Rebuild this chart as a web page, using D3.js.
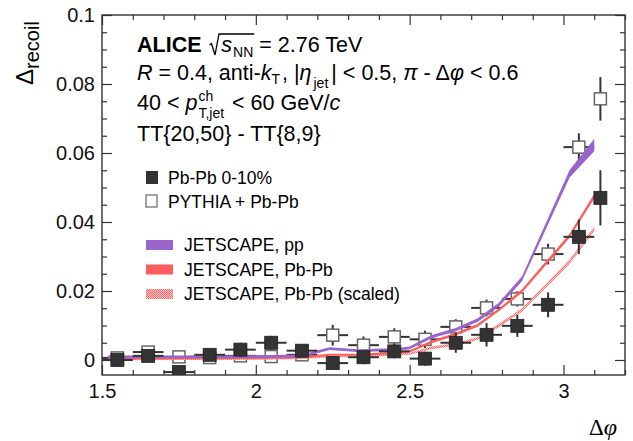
<!DOCTYPE html>
<html><head><meta charset="utf-8">
<script src="https://cdn.jsdelivr.net/npm/d3@7"></script>
<style>
html,body{margin:0;padding:0;background:#fff;}
svg{display:block;font-family:"Liberation Sans",Arial,Helvetica,sans-serif;}
svg text{white-space:pre;}
</style></head>
<body>
<svg id="chart" width="633" height="441"></svg>
<script>
// ---------------- data ----------------
const xCenters   = [1.55,1.65,1.75,1.85,1.95,2.05,2.15,2.25,2.35,2.45,2.55,2.65,2.75,2.85,2.95,3.05,3.12];
const xHalfWidth = [0.05,0.05,0.05,0.05,0.05,0.05,0.05,0.05,0.05,0.05,0.05,0.05,0.05,0.05,0.05,0.05,0.02];
const pbpbValues = [0.0000,0.0012,-0.0035,0.0015,0.0030,0.0050,0.0027,-0.0009,0.0008,0.0025,0.0004,0.0050,0.0073,0.0099,0.0160,0.0357,0.0470];
const pbpbErrors = [0.0015,0.0015,0.0020,0.0015,0.0020,0.0020,0.0018,0.0020,0.0020,0.0020,0.0020,0.0029,0.0034,0.0032,0.0036,0.0050,0.0080];
const pythiaValues = [0.0006,0.0023,0.0009,0.0007,0.0012,0.0010,0.0015,0.0072,0.0043,0.0067,0.0060,0.0096,0.0151,0.0177,0.0307,0.0617,0.0757];
const pythiaErrors = [0.0010,0.0015,0.0015,0.0012,0.0015,0.0015,0.0015,0.0030,0.0025,0.0025,0.0025,0.0022,0.0024,0.0022,0.0030,0.0040,0.0063];

const modelX        = [1.52,1.75,2.00,2.15,2.24,2.33,2.45,2.50,2.57,2.65,2.72,2.79,2.865,3.02,3.10];
const jetscapePP    = [0.0009,0.0009,0.0010,0.0012,0.0033,0.0027,0.0030,0.0035,0.0067,0.0088,0.0115,0.0160,0.0235,0.0540,0.0623];
const jetscapePPErr = [0.0004,0.0004,0.0004,0.0004,0.0004,0.0004,0.0004,0.0004,0.0005,0.0005,0.0005,0.0006,0.0007,0.0011,0.0018];
const jetscapePbPb    = [0.0004,0.0005,0.0006,0.0008,0.0015,0.0015,0.0020,0.0025,0.0052,0.0075,0.0100,0.0145,0.0200,0.0360,0.0475];
const jetscapePbPbErr = [0.0003,0.0003,0.0003,0.0003,0.0003,0.0003,0.0003,0.0003,0.0004,0.0004,0.0004,0.0004,0.0005,0.0006,0.0007];
const jetscapeScaled    = [0.0002,0.0003,0.0004,0.0006,0.0010,0.0011,0.0015,0.0018,0.0035,0.0045,0.0062,0.0100,0.0145,0.0285,0.0380];
const jetscapeScaledErr = [0.0003,0.0003,0.0003,0.0003,0.0003,0.0003,0.0003,0.0003,0.0004,0.0004,0.0004,0.0005,0.0005,0.0006,0.0007];

const xMajorTicks = [1.5,2,2.5,3];
const xTickLabels = ["1.5","2","2.5","3"];
const yMajorTicks = [0,0.02,0.04,0.06,0.08,0.1];
const yTickLabels = ["0","0.02","0.04","0.06","0.08","0.1"];
const legendLabels = ["Pb-Pb 0-10%","PYTHIA + Pb-Pb","JETSCAPE, pp","JETSCAPE, Pb-Pb","JETSCAPE, Pb-Pb (scaled)"];

// ---------------- setup ----------------
const svg = d3.select("#chart");
const L = 102, R = 625, T = 15, B = 375;
const x = d3.scaleLinear().domain([1.5,3.2]).range([L,R]);
const y = d3.scaleLinear().domain([0,0.1]).range([360,T]);
y.domain([y.invert(B),0.1]).range([B,T]);

const PURPLE = "#9a64cb", RED = "#ff5c5c", DARK = "#333";

const defs = svg.append("defs");
const pat = defs.append("pattern").attr("id","hatch").attr("patternUnits","userSpaceOnUse")
  .attr("width",2).attr("height",2);
pat.append("rect").attr("width",2).attr("height",2).attr("fill","#ffc4c4");
pat.append("rect").attr("x",0).attr("y",0).attr("width",1).attr("height",1).attr("fill","#ff6a6a");
pat.append("rect").attr("x",1).attr("y",1).attr("width",1).attr("height",1).attr("fill","#ff6a6a");
defs.append("clipPath").attr("id","plotclip").append("rect")
  .attr("x",L).attr("y",T).attr("width",R-L).attr("height",B-T);

const plot = svg.append("g").attr("clip-path","url(#plotclip)");

// ---------------- axes ----------------
const xMinor = d3.range(16,33).map(i=>i/10).filter(v=>!xMajorTicks.some(m=>Math.abs(m-v)<1e-9));
const yMinor = d3.range(0,21).map(i=>i*0.005).filter(v=>!yMajorTicks.some(m=>Math.abs(m-v)<1e-9));

function styleAxis(g){ g.select(".domain").remove(); g.selectAll("line").attr("stroke","#333").attr("stroke-width",1.2); g.selectAll("text").attr("fill","#111").attr("font-size",20).attr("font-family","Liberation Sans, Arial, sans-serif"); }

svg.append("g").attr("transform",`translate(0,${B})`)
  .call(d3.axisBottom(x).tickValues(xMajorTicks).tickFormat((d,i)=>xTickLabels[i]).tickSize(-10).tickSizeOuter(0).tickPadding(9))
  .call(styleAxis);
svg.append("g").attr("transform",`translate(0,${B})`)
  .call(d3.axisBottom(x).tickValues(xMinor).tickFormat("").tickSize(-5).tickSizeOuter(0)).call(styleAxis);
svg.append("g").attr("transform",`translate(0,${T})`)
  .call(d3.axisTop(x).tickValues(xMajorTicks).tickFormat("").tickSize(-10).tickSizeOuter(0)).call(styleAxis);
svg.append("g").attr("transform",`translate(0,${T})`)
  .call(d3.axisTop(x).tickValues(xMinor).tickFormat("").tickSize(-5).tickSizeOuter(0)).call(styleAxis);

svg.append("g").attr("transform",`translate(${L},0)`)
  .call(d3.axisLeft(y).tickValues(yMajorTicks).tickFormat((d,i)=>yTickLabels[i]).tickSize(-10).tickSizeOuter(0).tickPadding(7))
  .call(styleAxis);
svg.append("g").attr("transform",`translate(${L},0)`)
  .call(d3.axisLeft(y).tickValues(yMinor).tickFormat("").tickSize(-5).tickSizeOuter(0)).call(styleAxis);
svg.append("g").attr("transform",`translate(${R},0)`)
  .call(d3.axisRight(y).tickValues(yMajorTicks).tickFormat("").tickSize(-10).tickSizeOuter(0)).call(styleAxis);
svg.append("g").attr("transform",`translate(${R},0)`)
  .call(d3.axisRight(y).tickValues(yMinor).tickFormat("").tickSize(-5).tickSizeOuter(0)).call(styleAxis);

svg.append("rect").attr("x",L).attr("y",T).attr("width",R-L).attr("height",B-T)
  .attr("fill","none").attr("stroke","#333").attr("stroke-width",1.4);

// ---------------- rich text helper ----------------
function rich(g, x0, y0, segs, base){
  let cx = x0, hold = 0;
  segs.forEach(s=>{
    const t = g.append("text").attr("x",cx).attr("y",y0+(s.dy||0))
      .attr("xml:space","preserve")
      .attr("font-size",s.size||base).attr("fill","#000").text(s.t);
    if(s.italic) t.attr("font-style","italic");
    if(s.bold) t.attr("font-weight","bold");
    if(s.family) t.attr("font-family",s.family);
    const w = t.node().getComputedTextLength();
    s._x = cx; s._w = w;
    if(s.hold){ hold = w; }
    else { cx += Math.max(w,hold) + (s.kern||0); hold = 0; }
  });
  return cx;
}

// ---------------- series ----------------
function band(vals, errs, fill){
  const area = d3.area().x((d,i)=>x(modelX[i])).y0((d,i)=>y(vals[i]-errs[i])).y1((d,i)=>y(vals[i]+errs[i]));
  plot.append("path").datum(vals).attr("d",area).attr("fill",fill).attr("stroke","none");
}

function errorBars(vals, errs){
  const g = plot.append("g").attr("stroke",DARK).attr("stroke-width",2);
  vals.forEach((v,i)=>{
    const cx = x(xCenters[i]), cy = y(v);
    g.append("line").attr("x1",x(xCenters[i]-xHalfWidth[i])).attr("x2",x(xCenters[i]+xHalfWidth[i])).attr("y1",cy).attr("y2",cy);
    g.append("line").attr("x1",cx).attr("x2",cx).attr("y1",y(v-errs[i])).attr("y2",y(v+errs[i]));
  });
}

// PYTHIA (open)
errorBars(pythiaValues, pythiaErrors);
plot.append("g").selectAll("rect").data(pythiaValues).join("rect")
  .attr("x",(d,i)=>x(xCenters[i])-6).attr("y",d=>y(d)-6).attr("width",12).attr("height",12)
  .attr("fill","#fff").attr("stroke","#666").attr("stroke-width",1.5);

// JETSCAPE bands
band(jetscapeScaled, jetscapeScaledErr, "url(#hatch)");
band(jetscapePbPb, jetscapePbPbErr, RED);
band(jetscapePP, jetscapePPErr, PURPLE);

// Pb-Pb (filled)
errorBars(pbpbValues, pbpbErrors);
plot.append("g").selectAll("rect").data(pbpbValues).join("rect")
  .attr("x",(d,i)=>x(xCenters[i])-6.5).attr("y",d=>y(d)-6.5).attr("width",13).attr("height",13)
  .attr("fill",DARK).attr("stroke","#222").attr("stroke-width",0.8);

// ---------------- header text ----------------
const hdr = svg.append("g");
const F = 21.5, SUB = 14;
// row 1
const r1 = [
  {t:"ALICE ", bold:true, kern:1},
  {t:"\u200A", kern:11},
  {t:"s", italic:true, kern:1},
  {t:"NN", size:SUB, dy:5},
  {t:" = 2.76 TeV"}
];
rich(hdr, 137, 52, r1, F);
{
  const xs = r1[1]._x + 1, xe = r1[3]._x + r1[3]._w + 1, yb = 52;
  hdr.append("path").attr("d",`M${xs},${yb-7} L${xs+2},${yb-8.5} L${xs+5.5},${yb+3} L${xs+9.5},${yb-18} L${xe},${yb-18}`)
    .attr("fill","none").attr("stroke","#000").attr("stroke-width",1.3);
}
// row 2
rich(hdr, 137, 80, [
  {t:"R", italic:true},
  {t:" = 0.4, anti-"},
  {t:"k", italic:true},
  {t:"T", size:SUB, dy:4, kern:2},
  {t:", |"},
  {t:"\u03B7", italic:true, kern:2},
  {t:"jet", size:SUB, dy:8, kern:3},
  {t:"| < 0.5, "},
  {t:"\u03C0", italic:true},
  {t:" - \u0394"},
  {t:"\u03C6", italic:true},
  {t:" < 0.6"}
], F);
// row 3
rich(hdr, 137, 110, [
  {t:"40 < "},
  {t:"p", italic:true, kern:1},
  {t:"ch", size:SUB, dy:-9, hold:true},
  {t:"T,jet", size:SUB, dy:8, kern:2},
  {t:" < 60 GeV/"},
  {t:"c", italic:true}
], F);
// row 4
rich(hdr, 137, 141, [{t:"TT{20,50} - TT{8,9}"}], F);

// ---------------- legend ----------------
const leg = svg.append("g");
const LF = 17.5;
leg.append("rect").attr("x",146).attr("y",171).attr("width",12).attr("height",13).attr("fill",DARK);
leg.append("text").attr("x",168).attr("y",184).attr("font-size",LF).text(legendLabels[0]);
leg.append("rect").attr("x",146).attr("y",195).attr("width",11).attr("height",12).attr("fill","#fff").attr("stroke","#666").attr("stroke-width",1.2);
leg.append("text").attr("x",168).attr("y",208).attr("font-size",LF).text(legendLabels[1]);
const sw = [PURPLE, RED, "url(#hatch)"];
[0,1,2].forEach(k=>{
  const yy = 250 + k*24.5;
  leg.append("rect").attr("x",146).attr("y",yy-10).attr("width",27).attr("height",10).attr("fill",sw[k]);
  leg.append("text").attr("x",184).attr("y",yy+1).attr("font-size",LF).text(legendLabels[2+k]);
});

// ---------------- axis titles ----------------
const yl = svg.append("g").attr("transform","translate(33,85) rotate(-90)");
rich(yl, 0, 0, [
  {t:"\u0394", size:24},
  {t:"recoil", size:20, dy:6}
], 24);
rich(svg.append("g"), 589, 435, [
  {t:"\u0394", size:23, family:"Liberation Serif, Times New Roman, serif"},
  {t:"\u03C6", size:24, italic:true, family:"Liberation Serif, Times New Roman, serif"}
], 23);
</script>
</body></html>
